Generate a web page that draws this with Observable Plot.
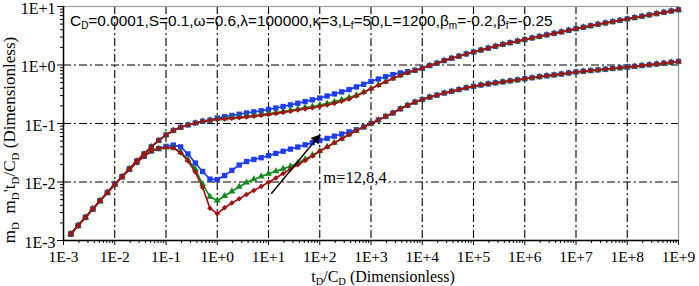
<!DOCTYPE html>
<html>
<head>
<meta charset="utf-8">
<script src="https://cdn.jsdelivr.net/npm/d3@7"></script>
<script src="https://cdn.jsdelivr.net/npm/@observablehq/plot@0.6"></script>
<style>
html,body{margin:0;padding:0;background:#fff;}
#chart{width:699px;height:286px;overflow:hidden;}
#chart svg text, #chart svg tspan { font-family: "Liberation Serif", serif !important; }
#chart svg text.param, #chart svg text.param tspan { font-family: "Liberation Sans", Arial, sans-serif !important; }
</style>
</head>
<body>
<div id="chart"></div>
<script>
// ---- dimensionless time t_D/C_D (7 samples per decade) ----
const tD = [
  1.39e-3,1.93e-3,2.68e-3,3.73e-3,5.18e-3,7.2e-3,
  1e-2,1.39e-2,1.93e-2,2.68e-2,3.73e-2,5.18e-2,7.2e-2,
  1e-1,1.39e-1,1.93e-1,2.68e-1,3.73e-1,5.18e-1,7.2e-1,
  1,1.39,1.93,2.68,3.73,5.18,7.2,
  10,13.9,19.3,26.8,37.3,51.8,72,
  100,139,193,268,373,518,720,
  1e3,1.39e3,1.93e3,2.68e3,3.73e3,5.18e3,7.2e3,
  1e4,1.39e4,1.93e4,2.68e4,3.73e4,5.18e4,7.2e4,
  1e5,1.39e5,1.93e5,2.68e5,3.73e5,5.18e5,7.2e5,
  1e6,1.39e6,1.93e6,2.68e6,3.73e6,5.18e6,7.2e6,
  1e7,1.39e7,1.93e7,2.68e7,3.73e7,5.18e7,7.2e7,
  1e8,1.39e8,1.93e8,2.68e8,3.73e8,5.18e8,7.2e8,
  1e9
];

// early unit-slope part (pressure = derivative, all curves)
const earlyUnitSlope = [1.29e-3,1.80e-3,2.48e-3,3.45e-3,4.79e-3,6.61e-3,9.12e-3,1.23e-2];

// pressure m_D
const pressureShared = [1.68e-2,2.29e-2,3.02e-2,3.98e-2,5.13e-2,6.38e-2,7.59e-2,8.61e-2,9.44e-2,0.102,0.109,0.114];
const pressureM12 = [0.124,0.131,0.137,0.144,0.151,0.158,0.165, 0.174,0.184,0.195,0.208,0.222,0.237,0.254,
                     0.272,0.295,0.320,0.347,0.380,0.422,0.468, 0.525,0.575,0.631,0.684,0.733,0.767,0.813];
const pressureM8  = [0.119,0.122,0.126,0.129,0.133,0.137,0.142, 0.147,0.153,0.160,0.168,0.177,0.187,0.195,
                     0.207,0.220,0.236,0.254,0.277,0.305,0.345, 0.396,0.455,0.519,0.589,0.661,0.741,0.804];
const pressureM4  = [0.117,0.120,0.123,0.126,0.129,0.133,0.138, 0.143,0.149,0.155,0.162,0.170,0.178,0.186,
                     0.195,0.207,0.221,0.240,0.263,0.295,0.339, 0.394,0.452,0.519,0.589,0.661,0.741,0.804];
const pressureLate = [0.881,0.977,1.072,1.189,1.303,1.413,1.542, 1.667,1.799,1.941,2.089,2.249,2.399,2.559,
                      2.723,2.897,3.076,3.273,3.467,3.681,3.917, 4.169,4.416,4.677,4.955,5.224,5.508,5.808,
                      6.124,6.457,6.808,7.178,7.551,7.943,8.356, 8.790];

// pressure derivative m_D' t_D/C_D
const derivShared = [1.64e-2,2.16e-2,2.75e-2,3.39e-2,3.72e-2];
const derivM12 = [4.07e-2,4.27e-2,3.98e-2,3.02e-2,2.11e-2,1.51e-2,1.12e-2,
                  1.10e-2,1.29e-2,1.58e-2,1.95e-2,2.24e-2,2.43e-2,2.60e-2,
                  2.82e-2,3.08e-2,3.35e-2,3.65e-2,3.96e-2,4.32e-2,4.70e-2,
                  5.12e-2,5.57e-2,6.07e-2,6.61e-2,7.18e-2,7.82e-2];
const derivM8  = [3.89e-2,3.85e-2,3.24e-2,2.40e-2,1.66e-2,9.12e-3,5.62e-3,
                  4.84e-3,5.75e-3,6.92e-3,8.32e-3,9.77e-3,1.11e-2,1.245e-2,
                  1.38e-2,1.53e-2,1.68e-2,1.86e-2,2.11e-2,2.45e-2,2.88e-2,
                  3.39e-2,3.98e-2,4.68e-2,5.50e-2,6.46e-2,7.50e-2];
const derivM4  = [3.89e-2,3.80e-2,3.16e-2,2.29e-2,1.48e-2,8.13e-3,3.55e-3,
                  2.88e-3,3.63e-3,4.37e-3,5.19e-3,6.10e-3,7.16e-3,8.41e-3,
                  9.89e-3,1.175e-2,1.40e-2,1.66e-2,1.97e-2,2.34e-2,2.79e-2,
                  3.35e-2,3.98e-2,4.68e-2,5.50e-2,6.46e-2,7.50e-2];
const derivLate = [8.71e-2,0.100,0.115,0.132,0.151,0.178,0.204,0.232,
                   0.257,0.282,0.305,0.331,0.355,0.380,0.407,
                   0.432,0.454,0.475,0.495,0.514,0.535,0.556,
                   0.582,0.605,0.630,0.653,0.676,0.700,0.729,
                   0.759,0.780,0.802,0.824,0.847,0.871,0.895,
                   0.920,0.948,0.977,1.007,1.038,1.072,1.109,
                   1.148];

// ticks
const xTicks = [1e-3,1e-2,1e-1,1e0,1e1,1e2,1e3,1e4,1e5,1e6,1e7,1e8,1e9];
const xTickLabels = ["1E-3","1E-2","1E-1","1E+0","1E+1","1E+2","1E+3","1E+4","1E+5","1E+6","1E+7","1E+8","1E+9"];
const yTicks = [1e-3,1e-2,1e-1,1e0,1e1];
const yTickLabels = ["1E-3","1E-2","1E-1","1E+0","1E+1"];
const minorMantissas = [2,3,4,5,6,7,8,9];

// annotations
const arrowData = [{x1: 11.3, y1: 0.0063, x2: 102, y2: 0.065}];
const mLabel = [{x: 117, y: 0.0118, text: "m=12,8,4"}];
const paramParts = [["C",0],["D",1],["=0.0001,S=0.1,\u03c9=0.6,\u03bb=100000,\u03ba=3,L",0],["f",1],
                    ["=50,L=1200,\u03b2",0],["m",1],["=-0.2,\u03b2",0],["f",1],["=-0.25",0]];
const xTitleParts = [["t",0],["D",1],["/C",0],["D",1],[" (Dimensionless)",0]];
const yTitleParts = [["m",0],["D",1],["  m",0],["D",1],["'t",0],["D",1],["/C",0],["D",1],[" (Dimensionless)",0]];

const colors = {m12: "#1e3cff", m8: "#14891e", m4: "#a31212"};
const SERIF = "Liberation Serif";
const SANS = "Liberation Sans";

const series = [
  {key:"m12", symbol:"square", r:3.0,
   p:[...earlyUnitSlope,...pressureShared,...pressureM12,...pressureLate],
   d:[...earlyUnitSlope,...derivShared,...derivM12,...derivLate]},
  {key:"m8", symbol:"triangle", r:2.6,
   p:[...earlyUnitSlope,...pressureShared,...pressureM8,...pressureLate],
   d:[...earlyUnitSlope,...derivShared,...derivM8,...derivLate]},
  {key:"m4", symbol:"diamond2", r:2.5,
   p:[...earlyUnitSlope,...pressureShared,...pressureM4,...pressureLate],
   d:[...earlyUnitSlope,...derivShared,...derivM4,...derivLate]}
];

const xGrid = xTicks.slice(1, -1);
const yGrid = yTicks.slice(1, -1);
const xMinor = xTicks.slice(0, -1).flatMap(d => minorMantissas.map(m => m * d));
const yMinor = yTicks.slice(0, -1).flatMap(d => minorMantissas.map(m => m * d));

const curveMarks = series.flatMap(s => {
  const c = colors[s.key];
  const rowsP = tD.map((t, i) => ({t, v: s.p[i]}));
  const rowsD = tD.map((t, i) => ({t, v: s.d[i]}));
  return [rowsP, rowsD].flatMap(rows => [
    Plot.line(rows, {x: "t", y: "v", stroke: c, strokeWidth: 1.7}),
    Plot.dot(rows, {x: "t", y: "v", symbol: s.symbol, r: s.r, fill: c, stroke: "none"})
  ]);
});

const gridStyle = {stroke: "black", strokeOpacity: 1, strokeWidth: 1.1, strokeDasharray: "8,3,2,3"};

const plot = Plot.plot({
  width: 699,
  height: 286,
  marginLeft: 63,
  marginRight: 21,
  marginTop: 6,
  marginBottom: 46,
  style: {fontSize: "16px", color: "black", background: "white"},
  x: {type: "log", domain: [1e-3, 1e9], label: null},
  y: {type: "log", domain: [1e-3, 1e1], label: null},
  marks: [
    Plot.gridX(xGrid, gridStyle),
    Plot.gridY(yGrid, gridStyle),
    Plot.frame({stroke: "#9a9a9a", strokeWidth: 1.2}),
    ...curveMarks,
    Plot.link(arrowData, {x1: "x1", y1: "y1", x2: "x2", y2: "y2", stroke: "black", strokeWidth: 1.4}),
    Plot.dot(arrowData, {x: "x2", y: "y2", symbol: "triangle", r: 3.8, fill: "black", stroke: "none", rotate: 39.7, dx: -3.8, dy: 4.5}),
    Plot.text(mLabel, {x: "x", y: "y", text: "text", textAnchor: "start", lineAnchor: "middle",
      fontFamily: SERIF, fontSize: 16.5, fill: "black", stroke: "white", strokeWidth: 5}),
    Plot.axisX(xMinor, {tickSize: 3, tickFormat: () => "", label: null, stroke: "black"}),
    Plot.axisX(xTicks, {tickSize: 5, tickPadding: 5, label: null, fontFamily: SERIF, fontSize: 15.5,
      tickFormat: d => xTickLabels[xTicks.indexOf(d)]}),
    Plot.axisY(yMinor, {tickSize: 3, tickFormat: () => "", label: null}),
    Plot.axisY(yTicks, {tickSize: 6, label: null, text: null}),
    Plot.axisY(yTicks, {tickSize: 0, tickPadding: 8, dy: 2, label: null, fontFamily: SERIF, fontSize: 16,
      tickFormat: d => yTickLabels[yTicks.indexOf(d)]}),
    Plot.ruleX([1e-3], {stroke: "black", strokeWidth: 1.5}),
    Plot.ruleY([1e-3], {stroke: "black", strokeWidth: 1.5})
  ]
});

d3.select(plot).attr("font-family", SERIF);
document.getElementById("chart").appendChild(plot);

function richText(sel, parts, subSize, shift) {
  let cur = 0;
  parts.forEach(([s, sub]) => {
    const target = sub ? shift : 0;
    const ts = sel.append("tspan").text(s).attr("dy", target - cur);
    if (sub) ts.attr("font-size", subSize);
    cur = target;
  });
}

const svg = d3.select(plot);
const param = svg.append("text")
  .attr("class", "param")
  .attr("x", 70).attr("y", 26)
  .attr("text-anchor", "start")
  .attr("font-family", SANS)
  .attr("font-size", 15.4)
  .attr("fill", "black");
richText(param, paramParts, 10, 3);

const xTitle = svg.append("text")
  .attr("x", 383).attr("y", 282)
  .attr("text-anchor", "middle")
  .attr("font-family", SERIF)
  .attr("font-size", 16)
  .attr("fill", "black");
richText(xTitle, xTitleParts, 10.5, 2.5);

const yTitle = svg.append("text")
  .attr("transform", "translate(15,140) rotate(-90)")
  .attr("text-anchor", "middle")
  .attr("font-family", SERIF)
  .attr("font-size", 17)
  .attr("fill", "black");
richText(yTitle, yTitleParts, 11, 4);
</script>
</body>
</html>
